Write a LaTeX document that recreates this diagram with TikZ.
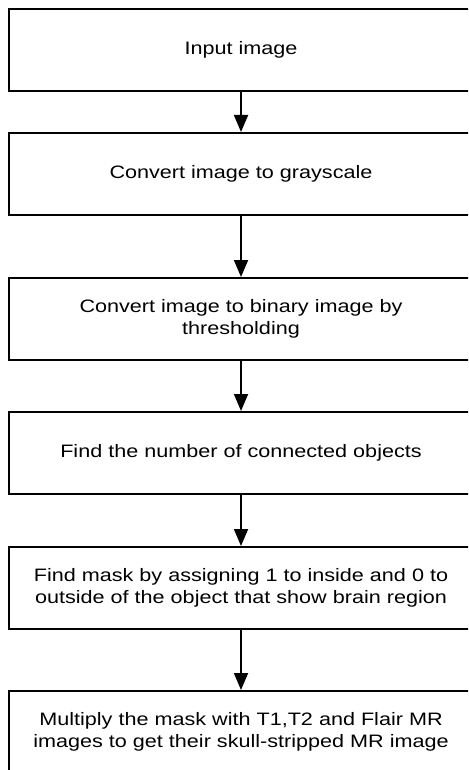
\documentclass[tikz,border=0pt]{standalone}
\usepackage{fontspec}
\setmainfont{Liberation Sans}[FakeStretch=1.2]
\usetikzlibrary{arrows.meta}
\begin{document}
\begin{tikzpicture}[x=1pt,y=-1pt,
  stepbox/.style={draw=black, line width=2pt, fill=white,
    minimum width=464pt, minimum height=82pt, anchor=north west,
    align=center, inner sep=0pt,
    font=\fontsize{18}{22}\selectfont},
  flow/.style={draw=black, line width=1.8pt,
    -{Triangle[length=17pt,width=14pt]}}]
  \useasboundingbox (0,0) rectangle (468,770);
  \clip (0,0) rectangle (468,770);
  \fill[white] (0,0) rectangle (468,770);

  % process steps, top to bottom
  \node[stepbox] (s1) at (8,8)   {Input image};
  \node[stepbox] (s2) at (8,132) {Convert image to grayscale};
  \node[stepbox] (s3) at (8,277) {Convert image to binary image by\\thresholding};
  \node[stepbox] (s4) at (8,411) {Find the number of connected objects};
  \node[stepbox] (s5) at (8,546) {Find mask by assigning 1 to inside and 0 to\\outside of the object that show brain region};
  \node[stepbox] (s6) at (8,690) {Multiply the mask with T1,T2 and Flair MR\\images to get their skull-stripped MR image};

  % connectors
  \draw[flow] (s1.south) -- (s2.north);
  \draw[flow] (s2.south) -- (s3.north);
  \draw[flow] (s3.south) -- (s4.north);
  \draw[flow] (s4.south) -- (s5.north);
  \draw[flow] (s5.south) -- (s6.north);
\end{tikzpicture}
\end{document}
